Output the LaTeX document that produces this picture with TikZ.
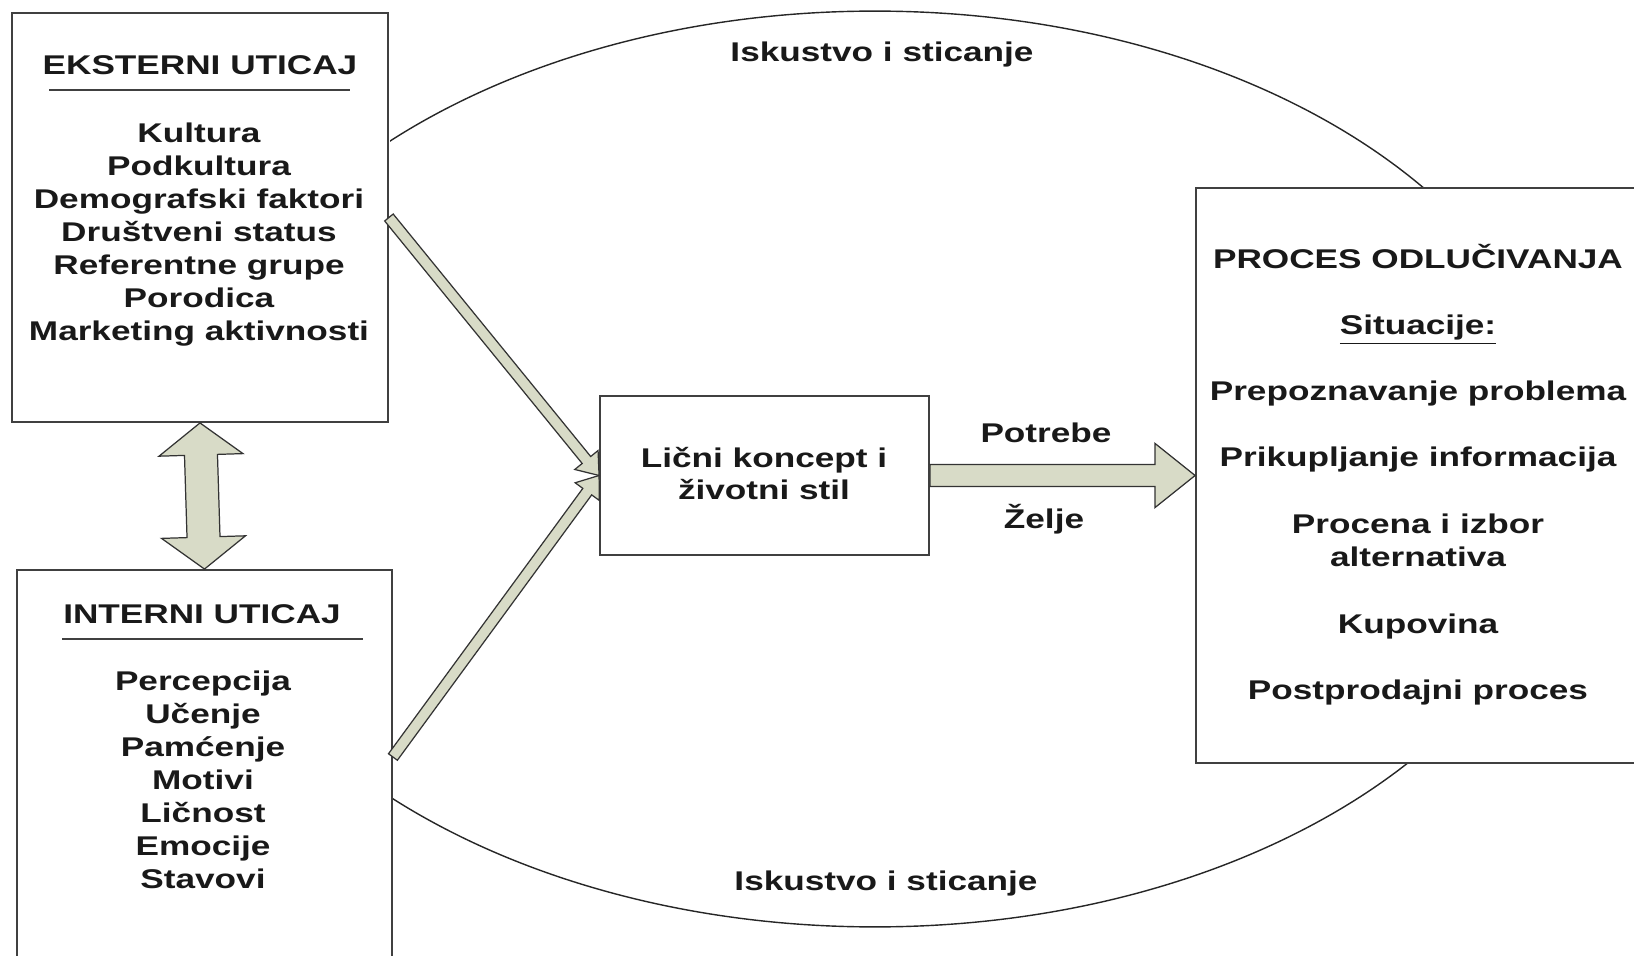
\documentclass[tikz,border=0pt]{standalone}
\usepackage{fontspec}
\newfontfamily\arialb{Liberation Sans}[FakeStretch=1.3]
\usetikzlibrary{calc}
\definecolor{strelicaboja}{RGB}{216,219,199}
\tikzset{
  okvir/.style={draw=black!75,line width=1.1pt,fill=white,inner sep=0pt},
  strelica/.style={fill=strelicaboja,draw=black!80,line width=0.7pt,line join=miter},
  tekst/.style={font=\arialb\bfseries\fontsize{15.4pt}{18pt}\selectfont,inner sep=0pt,anchor=base,text=black!90},
}
% #1 od, #2 do, #3 pola tijela, #4 pola glave, #5 duzina glave
\newcommand{\blokstrelica}[5]{%
  \path ($(#2)!#5!(#1)$) coordinate (hb);
  \filldraw[strelica] ($(#1)!#3!90:(#2)$) -- ($(hb)!#3!90:(#2)$) -- ($(hb)!#4!90:(#2)$) -- (#2)
    -- ($(hb)!#4!-90:(#2)$) -- ($(hb)!#3!-90:(#2)$) -- ($(#1)!#3!-90:(#2)$) -- cycle;
}
\newcommand{\dvostrukastrelica}[5]{%
  \path ($(#1)!#5!(#2)$) coordinate (ha) ($(#2)!#5!(#1)$) coordinate (hb);
  \filldraw[strelica] (#1) -- ($(ha)!#4!90:(#2)$) -- ($(ha)!#3!90:(#2)$) -- ($(hb)!#3!90:(#2)$)
    -- ($(hb)!#4!90:(#2)$) -- (#2) -- ($(hb)!#4!-90:(#2)$) -- ($(hb)!#3!-90:(#2)$)
    -- ($(ha)!#3!-90:(#2)$) -- ($(ha)!#4!-90:(#2)$) -- cycle;
}
\begin{document}
\begin{tikzpicture}[x=0.02cm,y=-0.02cm]
\useasboundingbox (0,0) rectangle (1634,956);
\clip (0,0) rectangle (1634,956);
\fill[white] (0,0) rectangle (1634,956);
% luk iskustva
\begin{scope}
  \clip (390,0) rectangle (1634,956);
  \draw[black!85,line width=0.8pt] (875,469) ellipse [x radius=13.9cm,y radius=9.16cm];
\end{scope}
% okviri
\node[okvir,minimum width=7.52cm,minimum height=8.18cm] (ek) at (200,217.5) {};
\node[okvir,minimum width=7.5cm,minimum height=7.8cm] (ik) at (204.5,765) {};
\node[okvir,minimum width=6.58cm,minimum height=3.18cm] (lk) at (764.5,475.5) {};
\node[okvir,minimum width=9.28cm,minimum height=11.5cm] (pd) at (1428,475.5) {};
% strelice
\coordinate (ikr) at ($(ik.east)+(0,-8)$);
\blokstrelica{ek.east}{lk.west}{0.11cm}{0.3cm}{0.4cm}
\blokstrelica{ikr}{lk.west}{0.11cm}{0.3cm}{0.4cm}
\blokstrelica{lk.east}{pd.west}{0.22cm}{0.64cm}{0.8cm}
\dvostrukastrelica{ek.south}{ik.north}{0.33cm}{0.84cm}{0.64cm}
% eksterni
\node[tekst] (ekn) at (200,75) {EKSTERNI UTICAJ};
\draw[black!75,line width=1.1pt] (49,90) -- (350,90);
\foreach \t [count=\i] in {Kultura,Podkultura,Demografski faktori,Društveni status,Referentne grupe,Porodica,Marketing aktivnosti}
  \node[tekst] (e\i) at (199,{110+33*\i}) {\t};
% interni
\node[tekst] (ikn) at (202,623) {INTERNI UTICAJ};
\draw[black!75,line width=1.1pt] (62,639) -- (363,639);
\foreach \t [count=\i] in {Percepcija,Učenje,Pamćenje,Motivi,Ličnost,Emocije,Stavovi}
  \node[tekst] (i\i) at (203,{657+33*\i}) {\t};
% licni koncept
\node[tekst] (lk1) at (764,467) {Lični koncept i};
\node[tekst] (lk2) at (764,500) {životni stil};
\node[tekst] (pot) at (1046,442) {Potrebe};
\node[tekst] (zel) at (1044,528) {Želje};
% proces odlucivanja
\node[tekst] (pd0) at (1418,269) {PROCES ODLUČIVANJA};
\node[tekst] (pd1) at (1418,335) {\underline{Situacije:}};
\node[tekst] (pd2) at (1418,400) {Prepoznavanje problema};
\node[tekst] (pd3) at (1418,466) {Prikupljanje informacija};
\node[tekst] (pd4) at (1418,533) {Procena i izbor};
\node[tekst] (pd5) at (1418,566) {alternativa};
\node[tekst] (pd6) at (1418,633) {Kupovina};
\node[tekst] (pd7) at (1418,699) {Postprodajni proces};
% iskustvo
\node[tekst] (isk1) at (882,62) {Iskustvo i sticanje};
\node[tekst] (isk2) at (886,890) {Iskustvo i sticanje};
\end{tikzpicture}
\end{document}
